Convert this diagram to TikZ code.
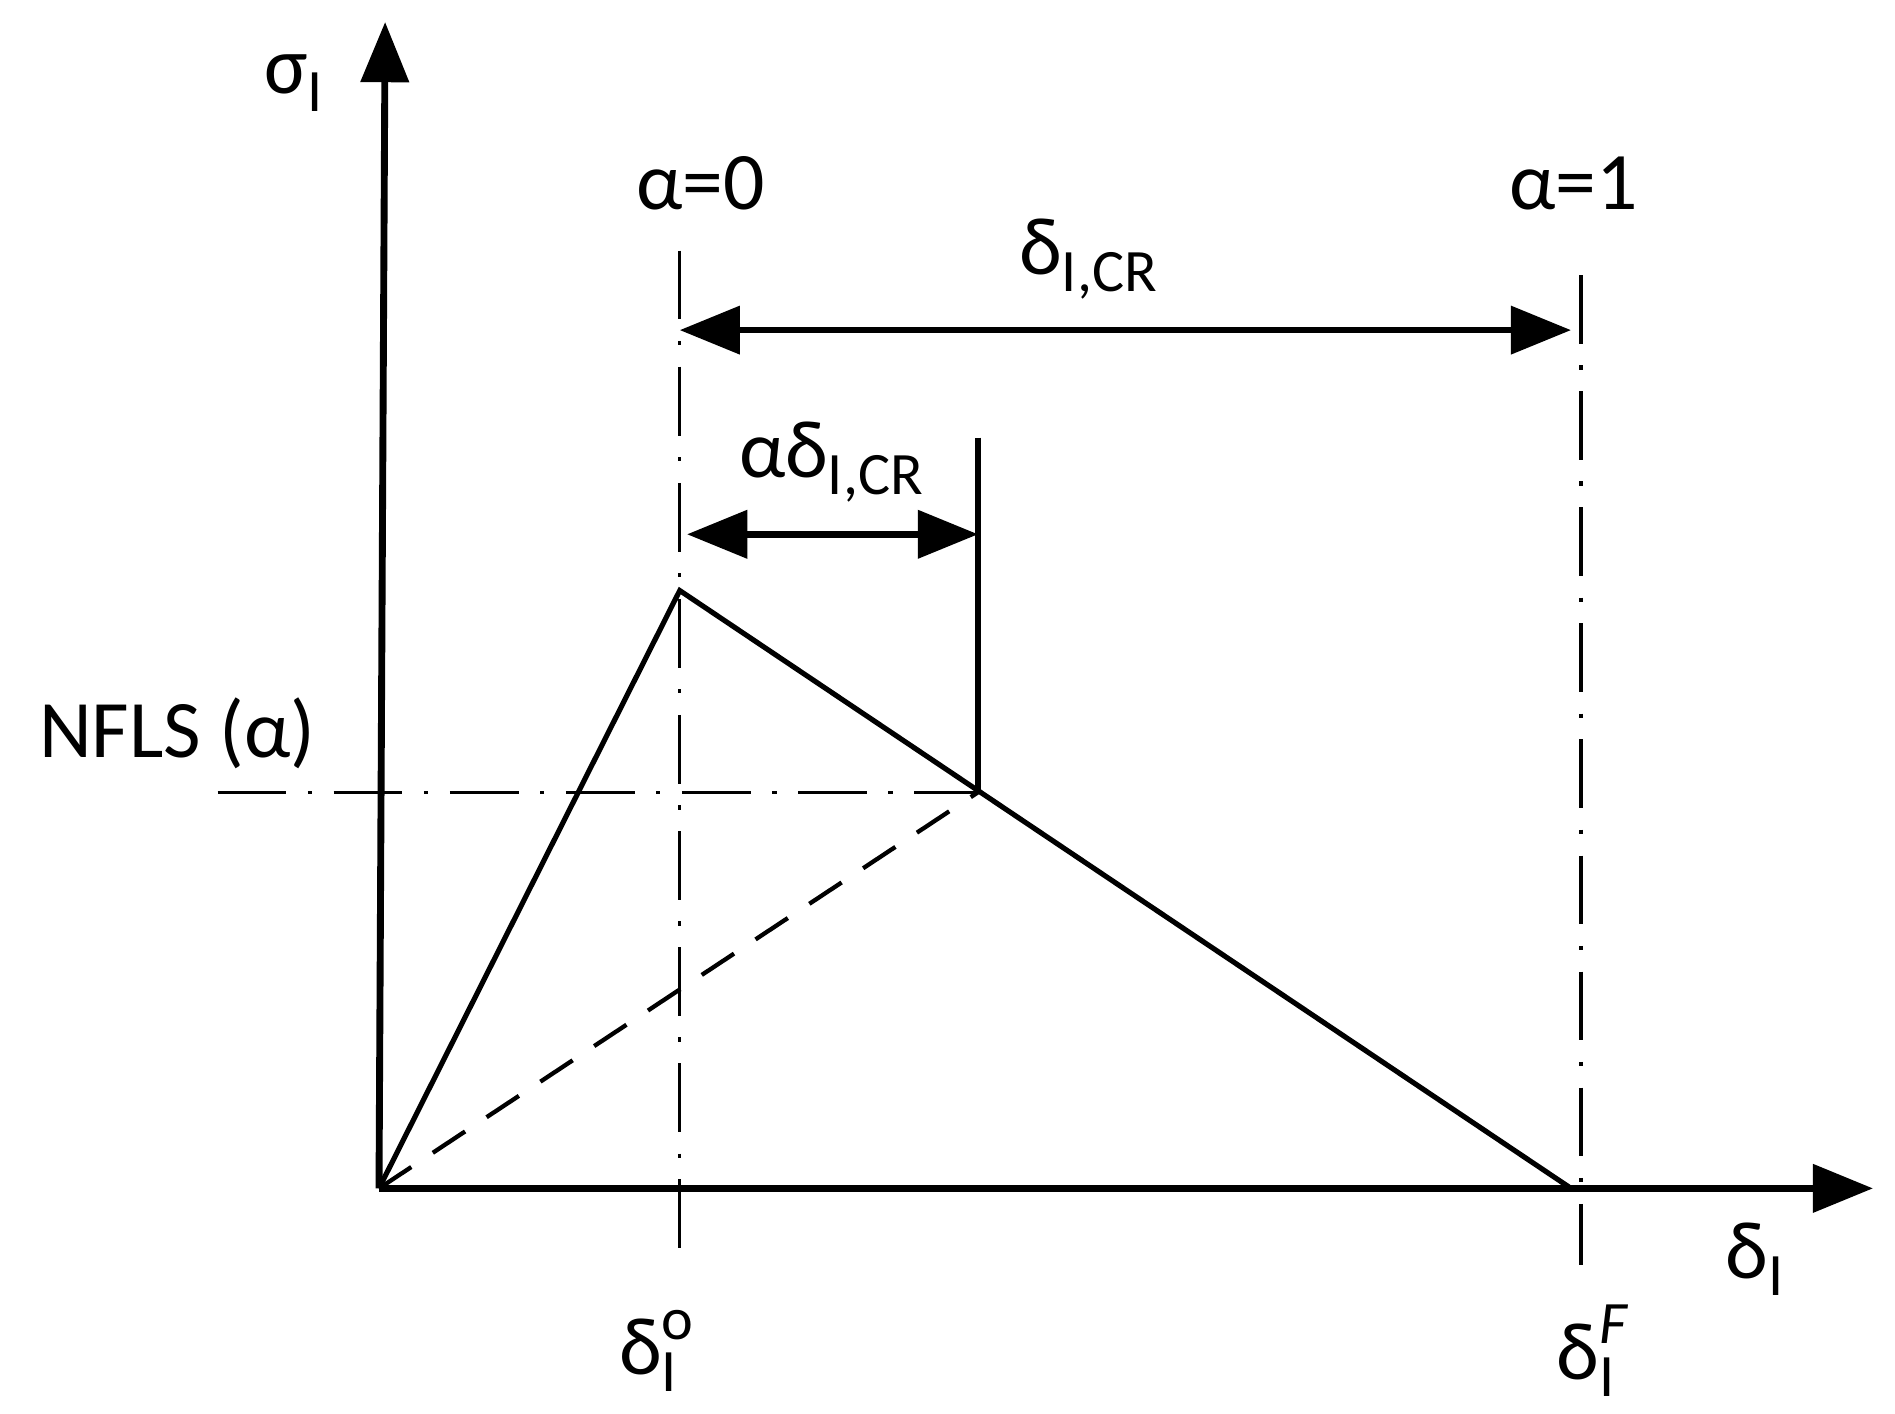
\documentclass[tikz,border=0pt]{standalone}
\usepackage{fontspec}
\setmainfont{Carlito}
\usetikzlibrary{arrows.meta}
\newcommand{\lo}[1]{\raisebox{-0.45ex}{\fontsize{14}{16}\selectfont #1}}
\newcommand{\losup}[2]{\makebox[0pt][l]{\raisebox{0.9ex}{\fontsize{14}{16}\selectfont #2}}\raisebox{-0.45ex}{\fontsize{14}{16}\selectfont #1}}
\begin{document}
\begin{tikzpicture}[x={(0.01cm,0)},y={(0,-0.01cm)},
  lab/.style={font=\fontsize{19}{22}\selectfont, inner sep=1pt},
  ax/.style={line width=1.6pt,-{Triangle[length=14pt,width=11pt]}},
  dim/.style={line width=1.5pt,{Triangle[length=14pt,width=11pt]}-{Triangle[length=14pt,width=11pt]}},
  guide/.style={line width=0.8pt,dash pattern=on 16pt off 5pt on 1pt off 5pt},
  curve/.style={line width=1.2pt}]
\useasboundingbox (0,0) rectangle (1550,1156);
\coordinate (O) at (310,972);
\coordinate (Ytop) at (315,18);
\coordinate (Xend) at (1532,972);
\coordinate (P) at (556,483);
\coordinate (Q) at (800,648);
\coordinate (F) at (1285,972);
\coordinate (A0t) at (556,205); \coordinate (A0b) at (556,1035);
\coordinate (A1t) at (1293,225); \coordinate (A1b) at (1293,1035);
\coordinate (Nl) at (178,648);
\coordinate (B1) at (556,270); \coordinate (B2) at (1285,270);
\coordinate (S1) at (562,437); \coordinate (S2) at (800,437);
\coordinate (Vt) at (800,358);
\draw[ax] (O) -- (Ytop);
\draw[ax] (O) -- (Xend);
\draw[guide] (A0t) -- (A0b);
\draw[guide] (A1t) -- (A1b);
\draw[guide] (Nl) -- (Q);
\draw[line width=1pt,dash pattern=on 9pt off 6pt] (O) -- (Q);
\draw[curve] (O) -- (P) -- (F);
\draw[curve] (Vt) -- (Q);
\draw[dim] (B1) -- (B2);
\draw[dim] (S1) -- (S2);
\node[lab] (sig) at (240,68) {σ\lo{I}};
\node[lab] (a0) at (573,150) {α=0};
\node[lab] (a1) at (1287,150) {α=1};
\node[lab] (dcr) at (890,212) {δ\lo{I,CR}};
\node[lab] (adcr) at (680,378) {αδ\lo{I,CR}};
\node[lab] (nfls) at (145,600) {NFLS (α)};
\node[lab] (dI) at (1435,1030) {δ\lo{I}};
\node[lab] (d0) at (530,1105) {δ\losup{I}{o}};
\node[lab] (dF) at (1297,1105) {δ\losup{I}{\textit{F}}};
\end{tikzpicture}
\end{document}
